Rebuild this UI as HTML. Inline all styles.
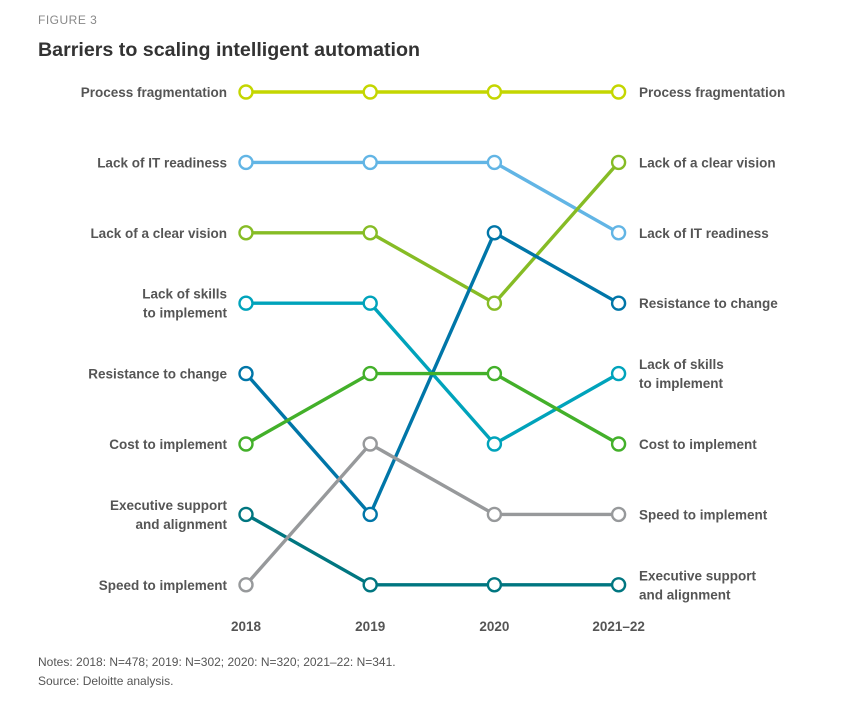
<!DOCTYPE html>
<html><head><meta charset="utf-8"><style>
body{margin:0;background:#fff;width:865px;height:712px;overflow:hidden;font-family:"Liberation Sans",sans-serif}
</style></head><body>
<svg id="chart" width="865" height="712" xmlns="http://www.w3.org/2000/svg">
<text x="38" y="24" font-size="12" fill="#888" letter-spacing="0.5">FIGURE 3</text>
<text x="38" y="56" font-size="19" font-weight="bold" fill="#333" textLength="382" lengthAdjust="spacingAndGlyphs">Barriers to scaling intelligent automation</text>
<text x="38" y="666" font-size="12" fill="#555">Notes: 2018: N=478; 2019: N=302; 2020: N=320; 2021–22: N=341.</text>
<text x="38" y="685" font-size="12" fill="#555">Source: Deloitte analysis.</text>
<g id="plot"></g>
</svg>
<script>
const years = ["2018","2019","2020","2021–22"];
const seriesNames = [["Process fragmentation"],["Lack of IT readiness"],["Lack of a clear vision"],["Lack of skills","to implement"],["Resistance to change"],["Cost to implement"],["Executive support","and alignment"],["Speed to implement"]];
const rankFrag = [1,1,1,1];
const rankIT = [2,2,2,3];
const rankVision = [3,3,4,2];
const rankSkills = [4,4,6,5];
const rankResist = [5,7,3,4];
const rankCost = [6,5,5,6];
const rankExec = [7,8,8,8];
const rankSpeed = [8,6,7,7];
const ranks = [rankFrag,rankIT,rankVision,rankSkills,rankResist,rankCost,rankExec,rankSpeed];
const colors = ["#c4d600","#62b5e5","#86bc25","#00a3bb","#0076a8","#43b02a","#007680","#97999b"];
const NS="http://www.w3.org/2000/svg";
const g=document.getElementById('plot');
const xScale=i=>246+i*124.2;
const yScale=r=>92+(r-1)*70.4;
function mk(tag,attrs){const e=document.createElementNS(NS,tag);for(const k in attrs)e.setAttribute(k,attrs[k]);return e;}
function label(lines,x,y,anchor,name){
  const t=mk('text',{x:x,'text-anchor':anchor,'font-size':'13.5','font-weight':'bold',fill:'#555'});
  
  
  const n=lines.length;
  lines.forEach((s,i)=>{const ts=mk('tspan',{x:x,y:y+5+(i-(n-1)/2)*19});ts.textContent=s;t.appendChild(ts);});
  g.appendChild(t);
}
ranks.forEach((r,si)=>{
  const pts=r.map((v,i)=>xScale(i)+','+yScale(v)).join(' ');
  const pl=mk('polyline',{points:pts,fill:'none',stroke:colors[si],'stroke-width':'3.4'});
  
  
  g.appendChild(pl);
});
ranks.forEach((r,si)=>{
  r.forEach((v,i)=>{
    const c=mk('circle',{cx:xScale(i),cy:yScale(v),r:'6.5',fill:'#fff',stroke:colors[si],'stroke-width':'2.4'});
    
    
    g.appendChild(c);
  });
  label(seriesNames[si],227,yScale(r[0]),'end','left-label');
  label(seriesNames[si],639,yScale(r[3]),'start','right-label');
});
years.forEach((y,i)=>{
  const t=mk('text',{x:xScale(i),y:631,'text-anchor':'middle','font-size':'13.5','font-weight':'bold',fill:'#555'});
  t.textContent=y;
  
  
  g.appendChild(t);
});
</script>
</body></html>
